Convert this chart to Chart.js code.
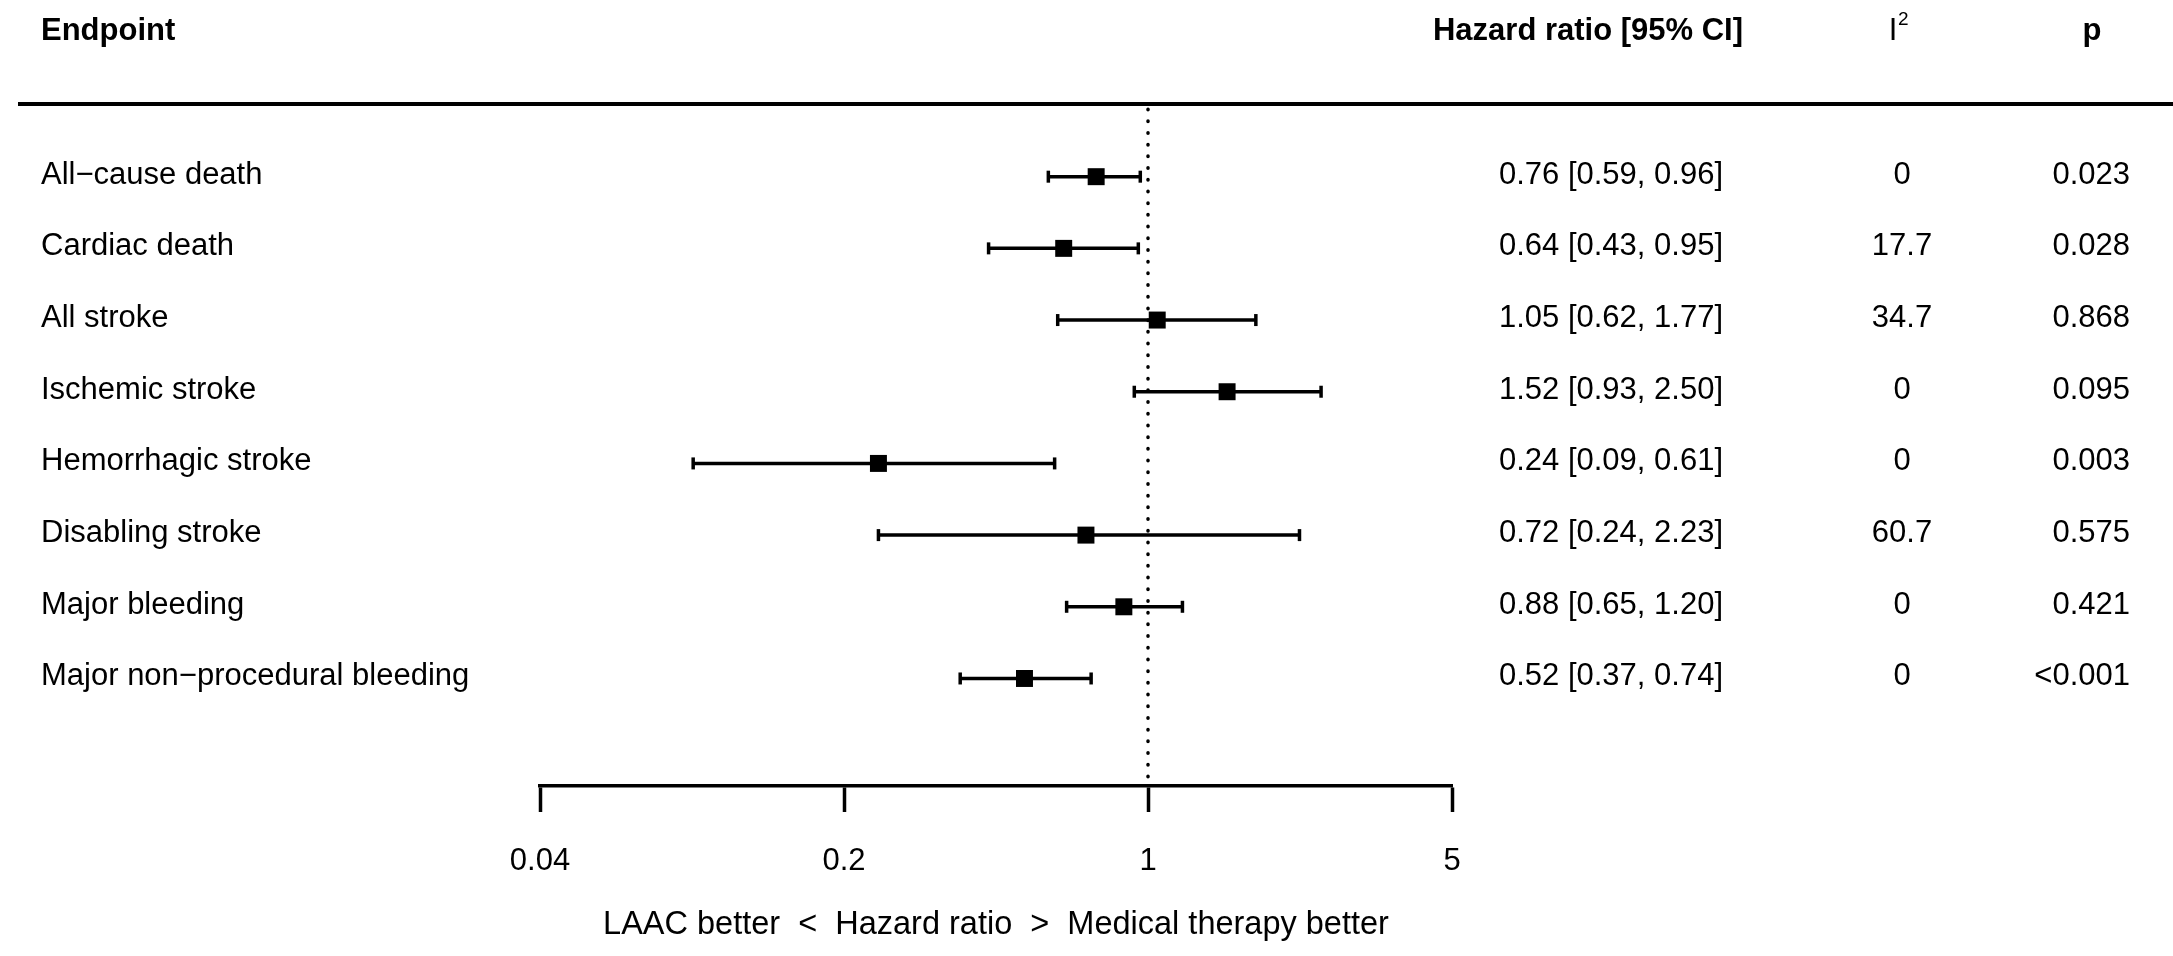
<!DOCTYPE html>
<html>
<head>
<meta charset="utf-8">
<title>Forest plot</title>
<script src="https://cdn.jsdelivr.net/npm/chart.js@4.4.1/dist/chart.umd.min.js"></script>
<style>
  html, body { margin: 0; padding: 0; background: #fff; }
  canvas { display: block; }
</style>
</head>
<body>
<canvas id="forest" width="2173" height="956"></canvas>
<script>
// Données du forest plot
const endpoints = ['All−cause death', 'Cardiac death', 'All stroke', 'Ischemic stroke', 'Hemorrhagic stroke', 'Disabling stroke', 'Major bleeding', 'Major non−procedural bleeding'];
const hr = [0.76, 0.64, 1.05, 1.52, 0.24, 0.72, 0.88, 0.52];
const ciLow = [0.59, 0.43, 0.62, 0.93, 0.09, 0.24, 0.65, 0.37];
const ciHigh = [0.96, 0.95, 1.77, 2.50, 0.61, 2.23, 1.20, 0.74];
const i2 = ['0', '17.7', '34.7', '0', '0', '60.7', '0', '0'];
const pValues = ['0.023', '0.028', '0.868', '0.095', '0.003', '0.575', '0.421', '<0.001'];
const xTicks = [0.04, 0.2, 1, 5];
const xTitle = 'LAAC better  <  Hazard ratio  >  Medical therapy better';

const FONT = '"Liberation Sans", Arial, Helvetica, sans-serif';
Chart.defaults.font.family = FONT;
Chart.defaults.color = '#000';

// Texte du tableau (colonnes gauche et droite) + trait d'en-tête
const tablePlugin = {
    id: 'table',
    afterDraw(chart) {
        const ctx = chart.ctx;
        const y = chart.scales.y;
        ctx.save();
        ctx.strokeStyle = '#000';
        ctx.lineWidth = 4;
        ctx.beginPath();
        ctx.moveTo(18, 104);
        ctx.lineTo(2173, 104);
        ctx.stroke();

        ctx.fillStyle = '#000';
        ctx.textBaseline = 'alphabetic';
        ctx.font = 'bold 31px ' + FONT;
        ctx.textAlign = 'left';
        ctx.fillText('Endpoint', 41, 40);
        ctx.textAlign = 'center';
        ctx.fillText('Hazard ratio [95% CI]', 1588, 40);
        ctx.fillText('p', 2092, 40);
        ctx.font = '31px ' + FONT;
        ctx.fillText('I', 1893, 40);
        ctx.font = '19px ' + FONT;
        ctx.textAlign = 'left';
        ctx.fillText('2', 1898, 25);

        ctx.font = '31px ' + FONT;
        endpoints.forEach((name, i) => {
            const py = y.getPixelForValue(i + 1) + 7;
            ctx.textAlign = 'left';
            ctx.fillText(name, 41, py);
            ctx.textAlign = 'right';
            ctx.fillText(`${hr[i].toFixed(2)} [${ciLow[i].toFixed(2)}, ${ciHigh[i].toFixed(2)}]`, 1723, py);
            ctx.textAlign = 'center';
            ctx.fillText(i2[i], 1902, py);
            ctx.textAlign = 'right';
            ctx.fillText(pValues[i], 2130, py);
        });
        ctx.restore();
    }
};

// Intervalles de confiance avec petites barres verticales aux extrémités
const ciDatasets = endpoints.map((name, i) => ({
    label: name,
    data: [{ x: ciLow[i], y: i + 1 }, { x: ciHigh[i], y: i + 1 }],
    showLine: true,
    borderColor: '#000',
    borderWidth: 3.5,
    pointStyle: 'line',
    pointRotation: 90,
    pointRadius: 6,
    pointBorderWidth: 3.5,
    pointBorderColor: '#000',
    order: 1
}));

const forestChart = new Chart(document.getElementById('forest').getContext('2d'), {
    type: 'scatter',
    data: {
        datasets: [
            {
                label: 'Hazard ratio',
                data: hr.map((v, i) => ({ x: v, y: i + 1 })),
                pointStyle: 'rect',
                pointRadius: 12,
                backgroundColor: '#000',
                borderWidth: 0,
                order: 0
            },
            ...ciDatasets,
            {
                label: 'Référence',
                data: [{ x: 1, y: 0.06 }, { x: 1, y: 9.5 }],
                showLine: true,
                borderColor: '#000',
                borderWidth: 3.5,
                borderDash: [0.5, 11.2],
                borderCapStyle: 'round',
                pointRadius: 0,
                order: 2
            }
        ]
    },
    options: {
        responsive: false,
        animation: false,
        events: [],
        layout: {
            padding: { left: 540, right: 721, top: 105, bottom: 0 }
        },
        plugins: {
            legend: { display: false },
            tooltip: { enabled: false }
        },
        scales: {
            x: {
                type: 'logarithmic',
                min: 0.04,
                max: 5,
                afterBuildTicks: axis => {
                    axis.ticks = xTicks.map(v => ({ value: v }));
                },
                afterFit: axis => {
                    axis.height = 170;
                },
                grid: {
                    drawOnChartArea: false,
                    drawTicks: true,
                    tickLength: 26,
                    tickWidth: 3.5,
                    tickColor: '#000'
                },
                border: { display: true, color: '#000', width: 3.5 },
                ticks: {
                    autoSkip: false,
                    maxRotation: 0,
                    padding: 31,
                    color: '#000',
                    font: { size: 31 },
                    callback: v => String(v)
                },
                title: {
                    display: true,
                    text: xTitle,
                    color: '#000',
                    font: { size: 32.5 },
                    padding: { top: 20, bottom: 11.5 }
                }
            },
            y: {
                type: 'linear',
                reverse: true,
                min: 0,
                max: 9.5,
                display: false
            }
        }
    },
    plugins: [tablePlugin]
});
</script>
</body>
</html>
